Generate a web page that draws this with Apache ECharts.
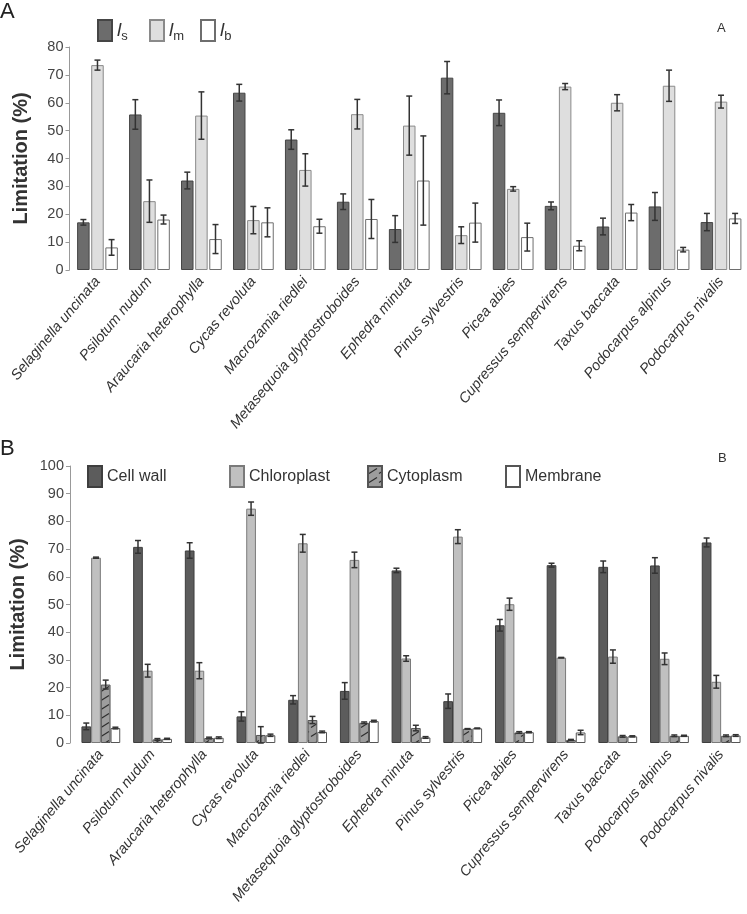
<!DOCTYPE html>
<html>
<head>
<meta charset="utf-8">
<script src="https://cdn.jsdelivr.net/npm/echarts@6/dist/echarts.min.js"></script>
<style>
  html, body { margin: 0; padding: 0; background: #fff; }
  #chart { width: 747px; height: 914px; }
</style>
</head>
<body>
<div id="chart"></div>
<script>
// species on the x axis (both panels)
const species = ['Selaginella uncinata', 'Psilotum nudum', 'Araucaria heterophylla', 'Cycas revoluta',
  'Macrozamia riedlei', 'Metasequoia glyptostroboides', 'Ephedra minuta', 'Pinus sylvestris',
  'Picea abies', 'Cupressus sempervirens', 'Taxus baccata', 'Podocarpus alpinus', 'Podocarpus nivalis']

// panel A : ls, lm, lb (mean and error)
const lsVal = [17.1, 55.8, 32.1, 63.6, 46.8, 24.5, 14.7, 69.0, 56.4, 23.0, 15.6, 22.8, 17.2]
const lsErr = [1.0, 5.3, 3.0, 3.0, 3.5, 2.8, 4.8, 5.8, 4.6, 1.4, 3.0, 5.0, 3.1]
const lmVal = [73.5, 24.7, 55.4, 17.9, 35.9, 55.9, 51.8, 12.5, 29.1, 65.8, 60.0, 66.1, 60.4]
const lmErr = [1.8, 7.6, 8.5, 4.9, 5.8, 5.3, 10.6, 3.0, 0.8, 1.1, 2.9, 5.6, 2.3]
const lbVal = [8.1, 18.1, 11.1, 17.1, 15.7, 18.3, 32.1, 17.0, 11.8, 8.7, 20.6, 7.3, 18.5]
const lbErr = [2.8, 1.6, 5.2, 5.2, 2.5, 7.0, 16.0, 7.0, 5.0, 1.8, 2.9, 0.8, 1.8]

// panel B : cell wall, chloroplast, cytoplasm, membrane
const cwVal = [6.0, 70.8, 69.5, 9.6, 15.6, 18.8, 62.3, 15.1, 42.5, 64.2, 63.6, 64.1, 72.4]
const cwErr = [1.2, 2.3, 2.8, 1.7, 1.5, 3.0, 0.8, 2.6, 2.1, 0.7, 2.1, 2.8, 1.6]
const chVal = [66.9, 26.1, 26.1, 84.6, 72.1, 66.1, 30.5, 74.5, 50.1, 30.8, 31.2, 30.4, 22.1]
const chErr = [0.2, 2.3, 2.9, 2.4, 3.2, 2.8, 1.0, 2.5, 2.2, 0.1, 2.4, 2.1, 2.3]
const cyVal = [21.1, 1.3, 1.8, 2.9, 8.3, 7.3, 5.4, 5.1, 3.8, 1.1, 2.4, 2.6, 2.6]
const cyErr = [1.6, 0.3, 0.3, 3.0, 1.3, 0.3, 1.0, 0.1, 0.3, 0.2, 0.3, 0.3, 0.3]
const meVal = [5.4, 1.5, 1.9, 2.8, 4.0, 7.9, 2.0, 5.3, 3.9, 3.8, 2.4, 2.6, 2.7]
const meErr = [0.3, 0.2, 0.3, 0.4, 0.3, 0.3, 0.3, 0.1, 0.2, 0.8, 0.2, 0.2, 0.3]

const yTicksA = { min: 0, max: 80, interval: 10 }
const yTicksB = { min: 0, max: 100, interval: 10 }

const chart = echarts.init(document.getElementById('chart'))
const FONT = 'Liberation Sans, Arial, sans-serif'

// hatched fill for cytoplasm
const hatch = document.createElement('canvas')
hatch.width = 10
hatch.height = 9
const hc = hatch.getContext('2d')
hc.fillStyle = '#9d9d9d'
hc.fillRect(0, 0, 10, 9)
hc.strokeStyle = '#2e2e2e'
hc.lineWidth = 1.2
hc.beginPath()
hc.moveTo(1, 7.5)
hc.lineTo(9, 2.5)
hc.stroke()

const BW_A = 12.5, GAP_A = 1.6
const BW_B = 9.7, GAP_B = 0

function errSeries(name, vals, errs, idx, n, bw, gap, axisIdx) {
  const off = (idx - (n - 1) / 2) * (bw + gap)
  return {
    name: name,
    type: 'custom',
    xAxisIndex: axisIdx,
    yAxisIndex: axisIdx,
    z: 10,
    data: vals.map((v, i) => [i, v, errs[i]]),
    renderItem: function (params, api) {
      const c = api.value(0)
      const v = api.value(1)
      const e = api.value(2)
      const p = api.coord([c, v])
      const hi = api.coord([c, v + e])
      const lo = api.coord([c, Math.max(0, v - e)])
      const x = p[0] + off
      const cap = 3
      const st = { stroke: '#333', lineWidth: 1.5 }
      return {
        type: 'group',
        children: [
          { type: 'line', shape: { x1: x, y1: hi[1], x2: x, y2: lo[1] }, style: st },
          { type: 'line', shape: { x1: x - cap, y1: hi[1], x2: x + cap, y2: hi[1] }, style: st },
          { type: 'line', shape: { x1: x - cap, y1: lo[1], x2: x + cap, y2: lo[1] }, style: st }
        ]
      }
    }
  }
}

function bar(name, vals, axisIdx, bw, gap, style) {
  return {
    name: name,
    type: 'bar',
    xAxisIndex: axisIdx,
    yAxisIndex: axisIdx,
    barWidth: bw,
    barGap: gap,
    data: vals,
    itemStyle: style
  }
}

const styleLs = { color: '#6c6c6c', borderColor: '#454545', borderWidth: 1 }
const styleLm = { color: '#dedede', borderColor: '#8a8a8a', borderWidth: 1 }
const styleLb = { color: '#ffffff', borderColor: '#6e6e6e', borderWidth: 1 }
const styleCw = { color: '#5c5c5c', borderColor: '#3e3e3e', borderWidth: 1 }
const styleCh = { color: '#c0c0c0', borderColor: '#7a7a7a', borderWidth: 1 }
const styleCy = { color: { image: hatch, repeat: 'repeat' }, borderColor: '#555', borderWidth: 1 }
const styleMe = { color: '#ffffff', borderColor: '#555', borderWidth: 1 }

function oneLegend(name, left, top, fmt, rich, fontSize) {
  return {
    data: [{ name: name, icon: 'rect' }],
    left: left,
    top: top,
    itemWidth: 14,
    itemHeight: 21,
    itemGap: 0,
    formatter: fmt,
    textStyle: { fontFamily: FONT, fontSize: fontSize, color: '#333', rich: rich }
  }
}

const subRich = {
  i: { fontFamily: FONT, fontStyle: 'italic', fontSize: 19, color: '#333' },
  s: { fontFamily: FONT, fontSize: 13, color: '#333', padding: [12, 0, 0, 0] }
}

function yAxis(gridIdx, ticks, offset) {
  return {
    type: 'value',
    gridIndex: gridIdx,
    min: ticks.min,
    max: ticks.max,
    interval: ticks.interval,
    offset: offset,
    name: 'Limitation (%)',
    nameLocation: 'middle',
    nameGap: 38,
    nameTextStyle: { fontFamily: FONT, fontSize: 20, fontWeight: 'bold', color: '#333' },
    axisLine: { show: true, lineStyle: { color: '#999', width: 1 } },
    axisTick: { show: true, length: 4, lineStyle: { color: '#999' } },
    axisLabel: { fontFamily: FONT, fontSize: 14.5, color: '#444', margin: 6 },
    splitLine: { show: false }
  }
}

function xAxis(gridIdx) {
  return {
    type: 'category',
    gridIndex: gridIdx,
    data: species,
    axisLine: { show: false },
    axisTick: { show: false },
    axisLabel: {
      interval: 0,
      rotate: 50,
      margin: 9,
      fontFamily: FONT,
      fontSize: 14.5,
      fontStyle: 'italic',
      color: '#333'
    }
  }
}

chart.setOption({
  animation: false,
  backgroundColor: '#fff',
  graphic: [
    { type: 'text', left: 0, top: 1, style: { text: 'A', font: '22px ' + FONT, fill: '#222' } },
    { type: 'text', left: 717, top: 22, style: { text: 'A', font: '13px ' + FONT, fill: '#333' } },
    { type: 'text', left: 0, top: 438, style: { text: 'B', font: '22px ' + FONT, fill: '#222' } },
    { type: 'text', left: 718, top: 452, style: { text: 'B', font: '13px ' + FONT, fill: '#333' } }
  ],
  legend: [
    oneLegend('ls', 92, 14, () => '{i|l}{s|s}', subRich, 19),
    oneLegend('lm', 144, 14, () => '{i|l}{s|m}', subRich, 19),
    oneLegend('lb', 195, 14, () => '{i|l}{s|b}', subRich, 19),
    oneLegend('Cell wall', 82, 460, null, null, 16),
    oneLegend('Chloroplast', 224, 460, null, null, 16),
    oneLegend('Cytoplasm', 362, 460, null, null, 16),
    oneLegend('Membrane', 500, 460, null, null, 16)
  ],
  grid: [
    { left: 71.5, right: -4.5, top: 47, height: 223 },
    { left: 75, right: 0, top: 466, height: 277 }
  ],
  xAxis: [xAxis(0), xAxis(1)],
  yAxis: [yAxis(0, yTicksA, 2), yAxis(1, yTicksB, 5)],
  series: [
    bar('ls', lsVal, 0, BW_A, '13%', styleLs),
    bar('lm', lmVal, 0, BW_A, '13%', styleLm),
    bar('lb', lbVal, 0, BW_A, '13%', styleLb),
    errSeries('ls', lsVal, lsErr, 0, 3, BW_A, GAP_A, 0),
    errSeries('lm', lmVal, lmErr, 1, 3, BW_A, GAP_A, 0),
    errSeries('lb', lbVal, lbErr, 2, 3, BW_A, GAP_A, 0),
    bar('Cell wall', cwVal, 1, BW_B, '0%', styleCw),
    bar('Chloroplast', chVal, 1, BW_B, '0%', styleCh),
    bar('Cytoplasm', cyVal, 1, BW_B, '0%', styleCy),
    bar('Membrane', meVal, 1, BW_B, '0%', styleMe),
    errSeries('Cell wall', cwVal, cwErr, 0, 4, BW_B, GAP_B, 1),
    errSeries('Chloroplast', chVal, chErr, 1, 4, BW_B, GAP_B, 1),
    errSeries('Cytoplasm', cyVal, cyErr, 2, 4, BW_B, GAP_B, 1),
    errSeries('Membrane', meVal, meErr, 3, 4, BW_B, GAP_B, 1)
  ]
})
</script>
</body>
</html>
